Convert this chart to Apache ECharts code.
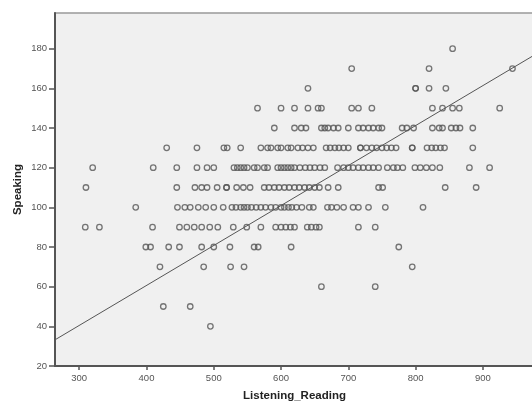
<!DOCTYPE html>
<html>
<head>
<meta charset="utf-8">
<script src="https://cdn.jsdelivr.net/npm/echarts@6/dist/echarts.min.js"></script>
<style>
html,body{margin:0;padding:0;background:#fff;}
#chart{width:532px;height:401px;}
</style>
</head>
<body>
<div id="chart"></div>
<script>
// Listening_Reading scores for each Speaking score level
var s180 = [855];
var s170 = [705, 820, 944];
var s160 = [640, 800, 800, 820, 845];
var s150 = [565, 600, 620, 640, 655, 660, 705, 715, 735, 825, 840, 855, 865, 925];
var s140 = [590, 620, 630, 637, 660, 665, 670, 678, 685, 700, 715, 722, 730, 737, 745, 750, 780, 787, 797, 825, 835, 840, 853, 860, 866, 885];
var s130 = [430, 475, 515, 520, 540, 570, 580, 585, 595, 600, 610, 615, 625, 632, 640, 648, 667, 673, 680, 686, 693, 700, 718, 718, 727, 735, 742, 750, 757, 764, 771, 795, 795, 817, 824, 830, 837, 843, 885];
var s120 = [320, 410, 445, 475, 490, 500, 530, 535, 540, 545, 550, 560, 565, 575, 580, 595, 600, 605, 610, 615, 620, 628, 636, 643, 650, 658, 665, 684, 693, 700, 707, 715, 722, 730, 737, 745, 758, 767, 773, 781, 799, 807, 816, 825, 836, 880, 910];
var s110 = [310, 445, 472, 482, 490, 505, 519, 519, 534, 544, 554, 575, 582, 590, 597, 605, 612, 620, 627, 635, 642, 650, 657, 670, 685, 745, 751, 844, 890];
var s100 = [384, 446, 457, 465, 477, 488, 500, 514, 527, 533, 540, 545, 550, 556, 563, 570, 577, 585, 592, 600, 605, 611, 616, 623, 631, 642, 648, 669, 675, 683, 693, 707, 715, 730, 755, 811];
var s90 = [309, 330, 409, 449, 460, 471, 482, 494, 506, 529, 549, 570, 592, 600, 607, 614, 620, 639, 645, 652, 657, 715, 740];
var s80 = [399, 406, 433, 449, 482, 500, 524, 560, 566, 615, 775];
var s70 = [420, 485, 525, 545, 795];
var s60 = [660, 740];
var s50 = [425, 465];
var s40 = [495];

var speakingLevels = [180, 170, 160, 150, 140, 130, 120, 110, 100, 90, 80, 70, 60, 50, 40];
var listeningByLevel = [s180, s170, s160, s150, s140, s130, s120, s110, s100, s90, s80, s70, s60, s50, s40];

// Fit line
var fitX = [264, 976];
var fitY = [33.2, 176.7];

var xTicks = [300, 400, 500, 600, 700, 800, 900];
var yTicks = [20, 40, 60, 80, 100, 120, 140, 160, 180];

var points = [];
speakingLevels.forEach(function (lvl, i) {
  listeningByLevel[i].forEach(function (x) { points.push([x, lvl]); });
});
var fitData = fitX.map(function (x, i) { return [x, fitY[i]]; });

var chart = echarts.init(document.getElementById('chart'), null, {renderer: 'canvas'});
chart.setOption({
  animation: false,
  backgroundColor: '#ffffff',
  grid: {
    left: 55, top: 13, width: 479, height: 353,
    containLabel: false, outerBoundsMode: 'none',
    show: true, backgroundColor: '#f0f0f0', borderColor: '#999', borderWidth: 1.5
  },
  xAxis: {
    type: 'value', min: 264, max: 976,
    name: 'Listening_Reading', nameLocation: 'middle', nameGap: 24, nameMoveOverlap: false,
    nameTextStyle: {fontFamily: 'Liberation Sans, Arial', fontSize: 11.5, fontWeight: 'bold', color: '#222'},
    axisLine: {show: true, lineStyle: {color: '#555', width: 2}},
    axisTick: {show: true, length: 4, lineStyle: {color: '#555', width: 1.5}, customValues: xTicks},
    axisLabel: {fontFamily: 'Liberation Sans, Arial', fontSize: 9.5, color: '#555', margin: 7, customValues: xTicks},
    splitLine: {show: false}
  },
  yAxis: {
    type: 'value', min: 20, max: 198,
    name: 'Speaking', nameLocation: 'middle', nameGap: 31, nameRotate: 90, nameMoveOverlap: false,
    nameTextStyle: {fontFamily: 'Liberation Sans, Arial', fontSize: 11.5, fontWeight: 'bold', color: '#222'},
    axisLine: {show: true, lineStyle: {color: '#555', width: 2}},
    axisTick: {show: true, length: 6, lineStyle: {color: '#555', width: 1.5}, customValues: yTicks},
    axisLabel: {fontFamily: 'Liberation Sans, Arial', fontSize: 9.5, color: '#555', margin: 8, customValues: yTicks},
    splitLine: {show: false}
  },
  series: [
    {
      type: 'scatter',
      data: points,
      symbol: 'circle',
      symbolSize: 5.5,
      itemStyle: {color: 'rgba(0,0,0,0)', borderColor: '#555', borderWidth: 1.3},
      silent: true
    },
    {
      type: 'line',
      data: fitData,
      symbol: 'none',
      lineStyle: {color: '#555', width: 1},
      silent: true
    }
  ]
});
</script>
</body>
</html>
